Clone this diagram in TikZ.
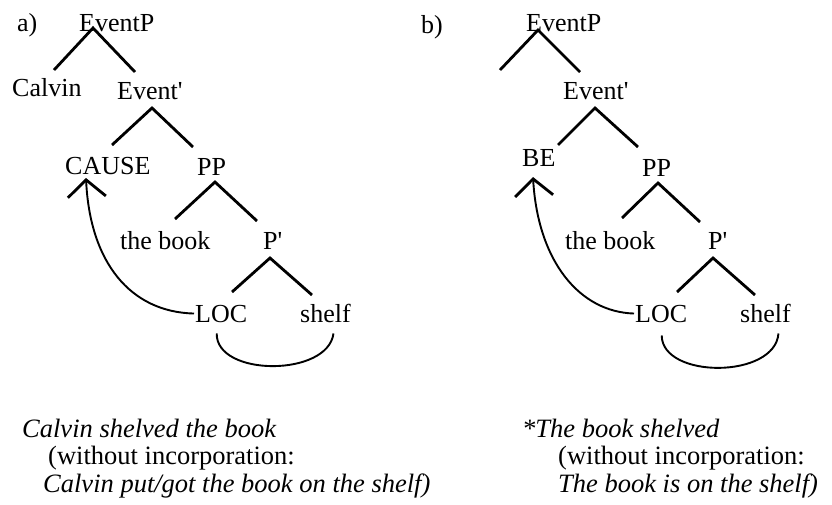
\documentclass[tikz,border=0pt]{standalone}
\usepackage{fontspec}
\setmainfont{Liberation Serif}
\usetikzlibrary{arrows.meta}
\begin{document}
\begin{tikzpicture}[x=1pt,y=-1pt,
  lbl/.style={anchor=base west,inner sep=0pt,font=\fontsize{26}{30}\selectfont},
  captxt/.style={anchor=base west,inner sep=0pt,font=\fontsize{26.5}{30}\selectfont},
  branch/.style={line width=2.8pt},
  move/.style={line width=1.9pt},
  mvarrow/.style={move,-{Straight Barb[length=17pt,width=38pt,line width=2.8pt]}},
  incorp/.style={line width=1.9pt}]
\useasboundingbox (0,0) rectangle (832,504);
% ---------------- tree a ----------------
\node[lbl] (la) at (17,31) {a)};
\node[lbl] (EPa) at (79,31) {EventP};
\node[lbl] (Calvin) at (12,96) {Calvin};
\node[lbl] (Ea) at (117,99) {Event\textquotesingle};
\node[lbl] (CAUSE) at (65,174) {CAUSE};
\node[lbl] (PPa) at (197,175) {PP};
\node[lbl] (tba) at (120,249) {the book};
\node[lbl] (Pba) at (263,249) {P\textquotesingle};
\node[lbl] (LOCa) at (195,322) {LOC};
\node[lbl] (shelfa) at (300,322) {shelf};
% branch points
\coordinate (EPa-t) at (93,28);  \coordinate (EPa-l) at (54,70);  \coordinate (EPa-r) at (135,72);
\coordinate (Ea-t) at (152,108); \coordinate (Ea-l) at (112,145); \coordinate (Ea-r) at (193,147);
\coordinate (PPa-t) at (215,182); \coordinate (PPa-l) at (175,219); \coordinate (PPa-r) at (257,221);
\coordinate (Pba-t) at (270,258); \coordinate (Pba-l) at (232,292); \coordinate (Pba-r) at (312,295);
\coordinate (CAUSE-t) at (86,178);
\draw[branch] (EPa-l) -- (EPa-t) -- (EPa-r);
\draw[branch] (Ea-l) -- (Ea-t) -- (Ea-r);
\draw[branch] (PPa-l) -- (PPa-t) -- (PPa-r);
\draw[branch] (Pba-l) -- (Pba-t) -- (Pba-r);
\draw[mvarrow] ([xshift=-1pt]LOCa.west) .. controls (130,312) and (90,262) .. (CAUSE-t);
\draw[incorp] ([shift={(-4.5,11)}]LOCa.south) .. controls (216,377) and (328,377) .. ([shift={(8,11)}]shelfa.south);
% captions a
\node[captxt] (ca1) at (22,437) {\itshape Calvin shelved the book};
\node[captxt] (ca2) at (48,464) {(without incorporation:};
\node[captxt] (ca3) at (43,492) {\itshape Calvin put/got the book on the shelf)};
% ---------------- tree b ----------------
\node[lbl] (lb) at (421,33) {b)};
\node[lbl] (EPb) at (526,31) {EventP};
\node[lbl] (Eb) at (563,99) {Event\textquotesingle};
\node[lbl] (BE) at (522,166) {BE};
\node[lbl] (PPb) at (642,176) {PP};
\node[lbl] (tbb) at (565,249) {the book};
\node[lbl] (Pbb) at (708,249) {P\textquotesingle};
\node[lbl] (LOCb) at (635,322) {LOC};
\node[lbl] (shelfb) at (740,322) {shelf};
\coordinate (EPb-t) at (538,30); \coordinate (EPb-l) at (500,70); \coordinate (EPb-r) at (580,72);
\coordinate (Eb-t) at (595,108); \coordinate (Eb-l) at (558,145); \coordinate (Eb-r) at (638,147);
\coordinate (PPb-t) at (658,183); \coordinate (PPb-l) at (622,218); \coordinate (PPb-r) at (700,222);
\coordinate (Pbb-t) at (713,258); \coordinate (Pbb-l) at (677,292); \coordinate (Pbb-r) at (755,295);
\coordinate (BE-t) at (533,177);
\draw[branch] (EPb-l) -- (EPb-t) -- (EPb-r);
\draw[branch] (Eb-l) -- (Eb-t) -- (Eb-r);
\draw[branch] (PPb-l) -- (PPb-t) -- (PPb-r);
\draw[branch] (Pbb-l) -- (Pbb-t) -- (Pbb-r);
\draw[mvarrow] ([xshift=-1pt]LOCb.west) .. controls (580,312) and (538,262) .. (BE-t);
\draw[incorp] ([shift={(0.5,13)}]LOCb.south) .. controls (662,379) and (775,379) .. ([shift={(13,11)}]shelfb.south);
% captions b
\node[captxt] (cb1) at (522,437) {\itshape *The book shelved};
\node[captxt] (cb2) at (558,464) {(without incorporation:};
\node[captxt] (cb3) at (558,492) {\itshape The book is on the shelf)};
\end{tikzpicture}
\end{document}
